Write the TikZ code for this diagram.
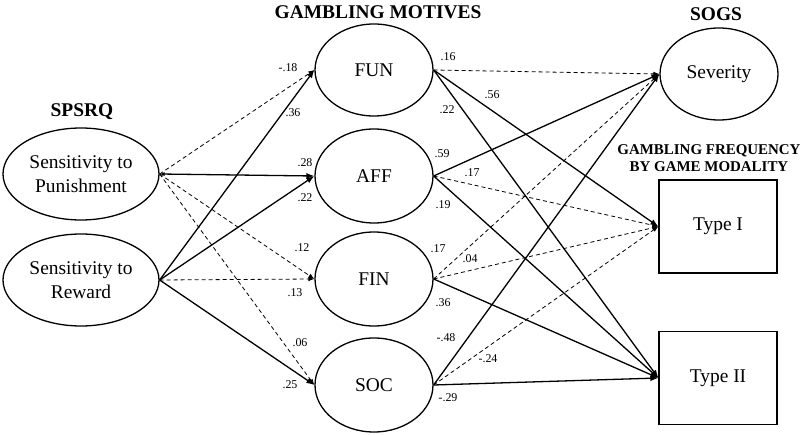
\documentclass[tikz,border=0pt]{standalone}
\usepackage{fontspec}
\setmainfont{Liberation Serif}
\usetikzlibrary{arrows.meta,shapes.geometric}
\tikzset{
  latent/.style={draw, line width=1.3bp, ellipse, inner sep=0pt, align=center,
    font=\fontsize{19.5}{24}\selectfont},
  observed/.style={draw, line width=1.3bp, rectangle, inner sep=0pt, align=center,
    minimum width=118bp, minimum height=93bp, font=\fontsize{19.5}{24}\selectfont},
  sig/.style={line width=1.3bp, -{Latex[length=8bp,width=6bp]}},
  nsig/.style={line width=0.8bp, dash pattern=on 4bp off 3bp, -{Latex[length=6bp,width=4.5bp]}},
  coef/.style={inner sep=0pt, font=\fontsize{12}{14}\selectfont},
  heading/.style={inner sep=0pt, font=\fontsize{19.5}{22}\selectfont\bfseries},
  subheading/.style={inner sep=0pt, align=center, font=\fontsize{15}{16.5}\selectfont\bfseries}
}
\begin{document}
\begin{tikzpicture}[x=1bp,y=-1bp]
\useasboundingbox (0,0) rectangle (800,435);
% headings
\node[heading] (hGM) at (378,12) {GAMBLING MOTIVES};
\node[heading] (hSP) at (82,112) {SPSRQ};
\node[heading] (hSO) at (716,14) {SOGS};
\node[subheading] (hGF) at (709,158) {GAMBLING FREQUENCY\\BY GAME MODALITY};
% nodes
\node[latent, minimum width=156bp, minimum height=92bp] (SP) at (81,174) {Sensitivity to\\Punishment};
\node[latent, minimum width=156bp, minimum height=92bp] (SR) at (81,280) {Sensitivity to\\Reward};
\node[latent, minimum width=118bp, minimum height=92bp] (FUN) at (374,70) {FUN};
\node[latent, minimum width=118bp, minimum height=94bp] (AFF) at (374,176) {AFF};
\node[latent, minimum width=118bp, minimum height=94bp] (FIN) at (374,279) {FIN};
\node[latent, minimum width=118bp, minimum height=94bp] (SOC) at (374,385) {SOC};
\node[latent, minimum width=118bp, minimum height=92bp] (SEV) at (719,74) {Severity};
\node[observed] (T1) at (718,226.5) {Type I};
\node[observed] (T2) at (718,378) {Type II};
% SPSRQ -> motives
\draw[nsig] (SP.east) -- (FUN.west);
\draw[sig, {Latex[length=5bp,width=4bp]}-{Latex[length=8bp,width=6bp]}] (SP.east) -- (AFF.west);
\draw[nsig] (SP.east) -- (FIN.west);
\draw[nsig] (SP.east) -- (SOC.west);
\draw[sig] (SR.east) -- (FUN.west);
\draw[sig] (SR.east) -- (AFF.west);
\draw[nsig] (SR.east) -- (FIN.west);
\draw[sig] (SR.east) -- (SOC.west);
% motives -> outcomes
\draw[nsig] (FUN.east) -- (SEV.west);
\draw[sig] (FUN.east) -- (T1.west);
\draw[sig] (FUN.east) -- (T2.west);
\draw[sig] (AFF.east) -- (SEV.west);
\draw[nsig] (AFF.east) -- (T1.west);
\draw[sig] (AFF.east) -- (T2.west);
\draw[nsig] (FIN.east) -- (SEV.west);
\draw[nsig] (FIN.east) -- (T1.west);
\draw[sig] (FIN.east) -- (T2.west);
\draw[sig] (SOC.east) -- (SEV.west);
\draw[nsig] (SOC.east) -- (T1.west);
\draw[sig] (SOC.east) -- (T2.west);
% coefficients
\node[coef] (c1) at (288,68) {-.18};
\node[coef] (c2) at (305,163) {.28};
\node[coef] (c3) at (302,248) {.12};
\node[coef] (c4) at (300,343) {.06};
\node[coef] (c5) at (293,113) {.36};
\node[coef] (c6) at (305,198) {.22};
\node[coef] (c7) at (295,293) {.13};
\node[coef] (c8) at (290,385) {.25};
\node[coef] (c9) at (448,57) {.16};
\node[coef] (c10) at (492,95) {.56};
\node[coef] (c11) at (447,110) {.22};
\node[coef] (c12) at (442,154) {.59};
\node[coef] (c13) at (472,173) {.17};
\node[coef] (c14) at (443,205) {.19};
\node[coef] (c15) at (438,249) {.17};
\node[coef] (c16) at (470,259) {.04};
\node[coef] (c17) at (443,303) {.36};
\node[coef] (c18) at (446,338) {-.48};
\node[coef] (c19) at (488,359) {-.24};
\node[coef] (c20) at (448,398) {-.29};
\end{tikzpicture}
\end{document}
